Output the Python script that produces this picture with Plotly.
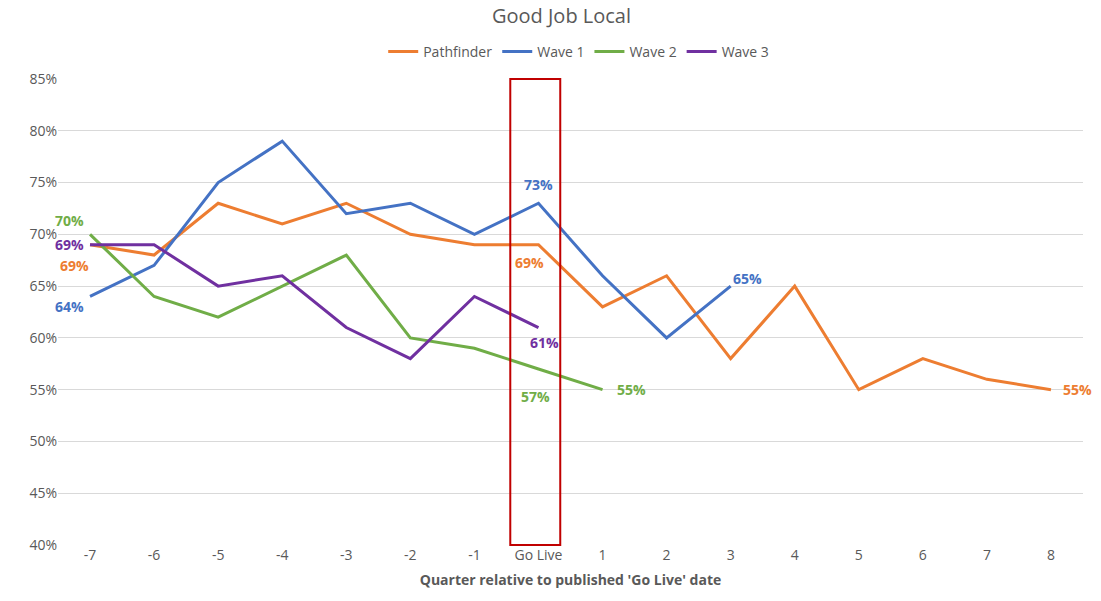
import plotly.graph_objects as go

# Quarter categories relative to the published 'Go Live' date
quarters = ["-7", "-6", "-5", "-4", "-3", "-2", "-1", "Go Live",
            "1", "2", "3", "4", "5", "6", "7", "8"]

# Share of respondents reporting a good local job (%)
pathfinder = [69, 68, 73, 71, 73, 70, 69, 69, 63, 66, 58, 65, 55, 58, 56, 55]
wave1 = [64, 67, 75, 79, 72, 73, 70, 73, 66, 60, 65]
wave2 = [70, 64, 62, 65, 68, 60, 59, 57, 55]
wave3 = [69, 69, 65, 66, 61, 58, 64, 61]

series = [
    ("Pathfinder", pathfinder, "#ED7D31"),
    ("Wave 1", wave1, "#4472C4"),
    ("Wave 2", wave2, "#70AD47"),
    ("Wave 3", wave3, "#7030A0"),
]

# Which points carry a value label, with pixel offsets for placement
label_spots = {
    "Pathfinder": [(0, -16, 21), (7, -9, 18), (15, 27, 0)],
    "Wave 1": [(0, -21, 10), (7, 0, -19), (10, 17, -8)],
    "Wave 2": [(0, -21, -14), (7, -3, 28), (8, 29, 0)],
    "Wave 3": [(0, -21, 0), (7, 6, 15)],
}

fig = go.Figure()
for name, vals, color in series:
    fig.add_trace(go.Scatter(
        x=quarters[:len(vals)], y=[v / 100 for v in vals],
        mode="lines", name=name,
        line=dict(color=color, width=3),
    ))
    for idx, dx, dy in label_spots[name]:
        # category axis: numeric x is the category index
        fig.add_annotation(
            x=idx, y=vals[idx] / 100, text=f"<b>{vals[idx]}%</b>",
            showarrow=False, xshift=dx, yshift=-dy,
            font=dict(color=color, size=14, family="Open Sans"),
        )

# Highlight box around the Go Live quarter
fig.add_shape(type="rect", xref="x", yref="paper",
              x0=6.56, x1=7.34, y0=0, y1=1,
              line=dict(color="#C00000", width=2), fillcolor="rgba(0,0,0,0)")

fig.update_layout(
    width=1101, height=601,
    margin=dict(l=58, r=18, t=79, b=56),
    paper_bgcolor="white", plot_bgcolor="white",
    font=dict(family="Open Sans", color="#595959", size=14),
    title=dict(text="Good Job Local", x=0.51, xanchor="center", y=0.973,
               yanchor="middle", font=dict(size=20, color="#595959")),
    legend=dict(orientation="h", x=0.508, xanchor="center", y=1.058,
                yanchor="middle", font=dict(size=14, color="#595959"),
                itemwidth=30, tracegroupgap=0),
    xaxis=dict(
        type="category", categoryorder="array", categoryarray=quarters,
        range=[-0.5, 15.5], showgrid=False, showline=False, ticks="",
        tickfont=dict(size=14, color="#595959"),
        title=dict(text="<b>Quarter relative to published 'Go Live' date</b>",
                   font=dict(size=14, color="#595959"), standoff=12),
    ),
    yaxis=dict(
        range=[0.40, 0.85], dtick=0.05, tickformat=".0%",
        showgrid=True, gridcolor="#D9D9D9", gridwidth=1,
        zeroline=False, showline=False, ticks="",
        tickfont=dict(size=14, color="#595959"),
    ),
)

fig.write_html("out.html")
